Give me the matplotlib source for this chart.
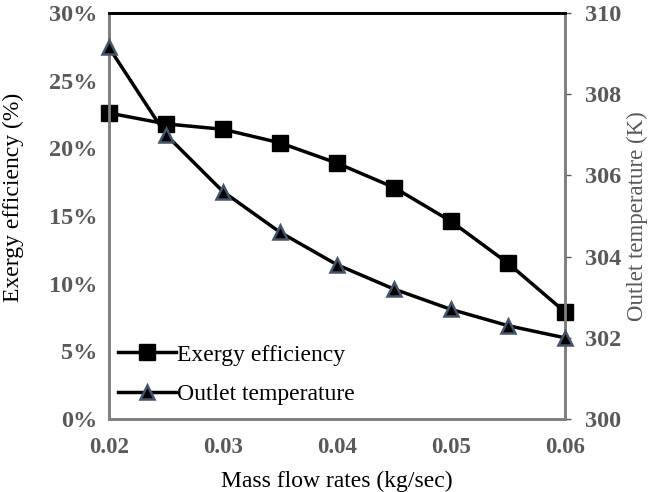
import numpy as np
import matplotlib
matplotlib.use("Agg")
import matplotlib.pyplot as plt
from matplotlib.ticker import FuncFormatter

plt.rcParams["font.family"] = ["Liberation Serif", "DejaVu Serif"]

flow = [0.02, 0.025, 0.03, 0.035, 0.04, 0.045, 0.05, 0.055, 0.06]
exergy = [22.6, 21.8, 21.4, 20.4, 18.9, 17.1, 14.6, 11.5, 7.9]
outlet_temp = [309.15, 307.0, 305.6, 304.6, 303.8, 303.2, 302.7, 302.3, 302.0]

gray = "#595959"
spine_gray = "#808080"

fig = plt.figure(figsize=(6.52, 4.92), dpi=100)
ax = fig.add_axes([0.167, 0.148, 0.700, 0.826])
ax2 = ax.twinx()

l1, = ax.plot(flow, exergy, color="black", lw=2.5, marker="s", ms=11,
              mfc="black", mec="black", label="Exergy efficiency", zorder=3,
              clip_on=False)
l2, = ax2.plot(flow, outlet_temp, color="black", lw=2.5, marker="^", ms=10,
               mfc="black", mec="#44546A", mew=1.8, label="Outlet temperature",
               zorder=3, clip_on=False)

ax.set_xlim(0.02, 0.06)
ax.set_ylim(0, 30)
ax2.set_ylim(300, 310)
ax.set_xticks([0.02, 0.03, 0.04, 0.05, 0.06])
ax.set_yticks(np.arange(0, 31, 5))
ax2.set_yticks(np.arange(300, 311, 2))
ax.yaxis.set_major_formatter(FuncFormatter(lambda v, p: f"{v:.0f}%"))

for a in (ax, ax2):
    for s in a.spines.values():
        s.set_color(spine_gray)
        s.set_linewidth(2)
    a.spines["top"].set_color("black")
    a.tick_params(labelsize=17.5, colors=gray, width=1)
    for t in a.get_xticklabels() + a.get_yticklabels():
        t.set_fontweight("bold")

ax.tick_params(axis="y", length=0, pad=8)
ax.tick_params(axis="x", length=0, pad=13, labelsize=16.5)
ax2.tick_params(axis="y", length=4, pad=10)

ax.set_xlabel("Mass flow rates (kg/sec)", fontsize=17, color="black", labelpad=9)
ax.set_ylabel("Exergy efficiency (%)", fontsize=17, color="black")
ax.yaxis.set_label_coords(-0.185, 0.547)
ax2.set_ylabel("Outlet temperature (K)", fontsize=16.5, color=gray)
ax2.yaxis.set_label_coords(1.135, 0.5)

leg = ax.legend(handles=[l1, l2], loc="lower left", bbox_to_anchor=(0.02, 0.035),
                frameon=False, fontsize=17, handlelength=2.45, handletextpad=0.05,
                labelspacing=0.75, borderpad=0, borderaxespad=0)

fig.savefig("out.png", dpi=100)
